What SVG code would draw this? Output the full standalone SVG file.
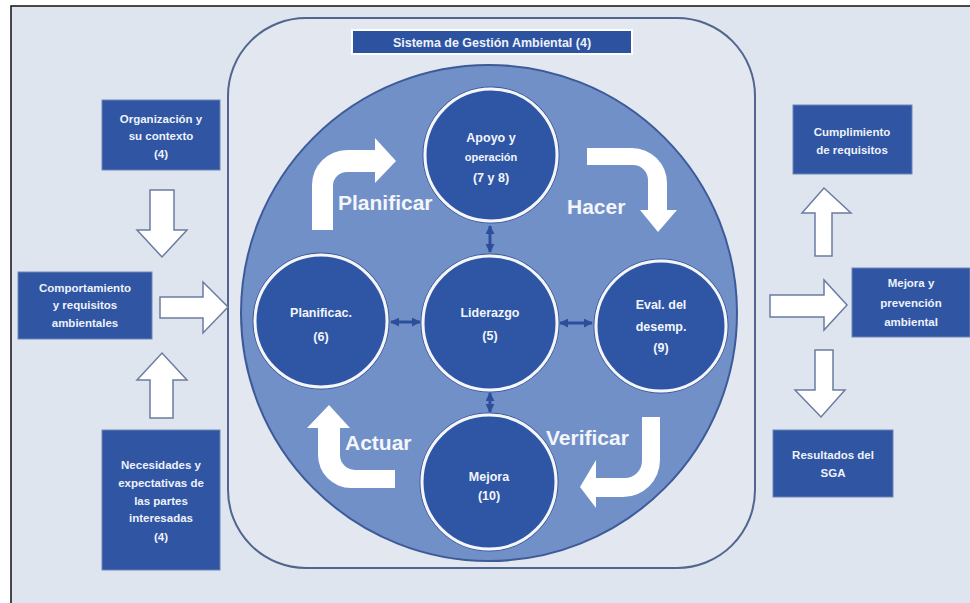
<svg xmlns="http://www.w3.org/2000/svg" width="970" height="603" viewBox="0 0 970 603">
<defs>
<style>
.box{fill:#2f55a3;stroke:#6f86b8;stroke-width:1}
.bt{font-family:"Liberation Sans",Arial,sans-serif;font-weight:bold;font-size:11.5px;fill:#eef2fa;text-anchor:middle}
.ct{font-family:"Liberation Sans",Arial,sans-serif;font-weight:bold;font-size:12.5px;fill:#f2f5fb;text-anchor:middle}
.big{font-family:"Liberation Sans",Arial,sans-serif;font-weight:bold;font-size:21px;fill:#f4f6fb}
.node{fill:#2f55a5;stroke:#f4f6fb;stroke-width:3}
.ring{fill:none;stroke:#3a5592;stroke-width:1}
.blk{fill:#ffffff;stroke:#6b7ca3;stroke-width:1.5;stroke-linejoin:miter}
.cyc{fill:#ffffff;stroke:none}
.dbl{stroke:#2c4f9c;stroke-width:3;fill:none;marker-start:url(#ah);marker-end:url(#ah)}
</style>
<marker id="ah" viewBox="0 0 10 10" refX="9" refY="5" markerWidth="3" markerHeight="3" orient="auto-start-reverse">
<path d="M0,0 L10,5 L0,10 Z" fill="#2c4f9c"/>
</marker>
</defs>
<rect x="0" y="0" width="970" height="603" fill="#ffffff"/>
<rect x="11" y="6" width="959" height="597" fill="#dfe5ef"/>
<path d="M11,603 L11,6 L970,6" fill="none" stroke="#111" stroke-width="1.5"/>

<g id="panel">
<rect x="228" y="18" width="527" height="550" rx="78" ry="78" fill="#e2e7f0" stroke="#51658f" stroke-width="2"/>
</g>
<g id="title">
<rect x="352" y="30" width="280" height="24" fill="#2d52a0" stroke="#ffffff" stroke-width="2"/>
<text x="492" y="47" class="bt" style="font-size:12.5px">Sistema de Gestión Ambiental (4)</text>
</g>
<g id="cycle">
<circle cx="489" cy="313" r="248" fill="#7190c8" stroke="#3d5a99" stroke-width="2"/>
</g>

<g id="connectors">
<line class="dbl" x1="490" y1="226" x2="490" y2="252"/>
<line class="dbl" x1="490" y1="393" x2="490" y2="412"/>
<line class="dbl" x1="391" y1="322" x2="420" y2="322"/>
<line class="dbl" x1="560" y1="323" x2="592" y2="323"/>
<path class="cyc" d="M312,230 L312,185 A35,35 0 0 1 347,150 L375,150 L375,138 L396,161 L375,183 L375,172 L347,172 A14,14 0 0 0 333,186 L333,230 Z"/>
<path class="cyc" d="M587,148 L632,148 A35,35 0 0 1 667,183 L667,210 L677,210 L658,232 L640,210 L648,210 L648,180 A15,15 0 0 0 633,165 L587,165 Z"/>
<path class="cyc" d="M642,417 L660,417 L660,460 A37,37 0 0 1 623,497 L596,497 L596,508 L580,487 L596,460 L596,478 L625,478 A17,17 0 0 0 642,461 Z"/>
<path class="cyc" d="M395,470 L355,470 A15,15 0 0 1 340,455 L340,428 L350,428 L329,405 L307,428 L318,428 L318,455 A33,33 0 0 0 351,488 L395,488 Z"/>
<path class="blk" d="M150,190 L174,190 L174,230 L187,230 L162,257 L137,230 L150,230 Z"/>
<path class="blk" d="M160,297 L203,297 L203,282 L228,307 L203,333 L203,318 L160,318 Z"/>
<path class="blk" d="M150,418 L150,380 L137,380 L162,353 L187,380 L173,380 L173,418 Z"/>
<path class="blk" d="M815,256 L815,213 L802,213 L824,188 L851,213 L832,213 L832,256 Z"/>
<path class="blk" d="M770,295 L824,295 L824,280 L847,305 L824,330 L824,317 L770,317 Z"/>
<path class="blk" d="M815,350 L833,350 L833,390 L845,390 L821,417 L795,390 L815,390 Z"/>
</g>

<text class="big" x="338" y="210">Planificar</text>
<text class="big" x="567" y="214">Hacer</text>
<text class="big" x="546" y="445">Verificar</text>
<text class="big" x="345" y="450">Actuar</text>

<g id="n-apoyo">
<circle class="ring" cx="491" cy="155" r="68"/>
<circle class="node" cx="491" cy="155" r="66"/>
<text class="ct" x="491" y="142">Apoyo y</text>
<text class="ct" x="491" y="161" style="font-size:11px">operación</text>
<text class="ct" x="491" y="182">(7 y 8)</text>
</g>
<g id="n-liderazgo">
<circle class="ring" cx="490" cy="323" r="69"/>
<circle class="node" cx="490" cy="323" r="67"/>
<text class="ct" x="490" y="317">Liderazgo</text>
<text class="ct" x="490" y="340">(5)</text>
</g>
<g id="n-planificac">
<circle class="ring" cx="321" cy="321" r="68"/>
<circle class="node" cx="321" cy="321" r="66"/>
<text class="ct" x="321" y="317">Planificac.</text>
<text class="ct" x="321" y="341">(6)</text>
</g>
<g id="n-eval">
<circle class="ring" cx="661" cy="326" r="67"/>
<circle class="node" cx="661" cy="326" r="65"/>
<text class="ct" x="661" y="309">Eval. del</text>
<text class="ct" x="661" y="331">desemp.</text>
<text class="ct" x="661" y="352">(9)</text>
</g>
<g id="n-mejora">
<circle class="ring" cx="489" cy="482" r="69"/>
<circle class="node" cx="489" cy="482" r="67"/>
<text class="ct" x="489" y="481">Mejora</text>
<text class="ct" x="489" y="500">(10)</text>
</g>

<g id="b-organizacion">
<rect class="box" x="102" y="100" width="118" height="70"/>
<text class="bt" x="161" y="123">Organización y</text>
<text class="bt" x="161" y="140">su contexto</text>
<text class="bt" x="161" y="158">(4)</text>
</g>
<g id="b-comportamiento">
<rect class="box" x="18" y="272" width="134" height="67"/>
<text class="bt" x="85" y="292">Comportamiento</text>
<text class="bt" x="85" y="309">y requisitos</text>
<text class="bt" x="85" y="327">ambientales</text>
</g>
<g id="b-necesidades">
<rect class="box" x="102" y="430" width="118" height="140"/>
<text class="bt" x="161" y="469">Necesidades y</text>
<text class="bt" x="161" y="487">expectativas de</text>
<text class="bt" x="161" y="505">las partes</text>
<text class="bt" x="161" y="522">interesadas</text>
<text class="bt" x="161" y="541">(4)</text>
</g>
<g id="b-cumplimiento">
<rect class="box" x="793" y="105" width="119" height="69"/>
<text class="bt" x="852" y="136">Cumplimiento</text>
<text class="bt" x="852" y="154">de requisitos</text>
</g>
<g id="b-mejora-prev">
<rect class="box" x="852" y="268" width="118" height="69"/>
<text class="bt" x="911" y="287">Mejora y</text>
<text class="bt" x="911" y="307">prevención</text>
<text class="bt" x="911" y="326">ambiental</text>
</g>
<g id="b-resultados">
<rect class="box" x="773" y="430" width="120" height="67"/>
<text class="bt" x="833" y="459">Resultados del</text>
<text class="bt" x="833" y="477">SGA</text>
</g>
</svg>
